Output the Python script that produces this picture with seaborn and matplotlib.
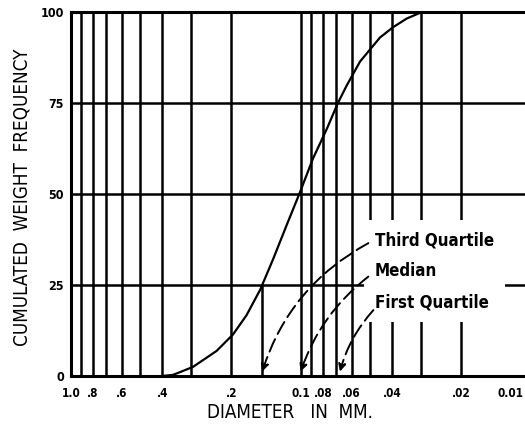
import matplotlib
matplotlib.use("Agg")
import matplotlib.pyplot as plt
import matplotlib.transforms as mtransforms
import seaborn as sns
import pandas as pd
from matplotlib.ticker import FixedLocator, NullFormatter, FixedFormatter

# ---- data ----
diameter_mm = [0.40, 0.36, 0.346, 0.294, 0.232, 0.197, 0.172, 0.150, 0.132, 0.115,
               0.1007, 0.0885, 0.0771, 0.0689, 0.0631, 0.0552, 0.0452, 0.0397,
               0.0346, 0.0297]
cum_weight_pct = [0.0, 0.3, 0.7, 2.5, 6.9, 11.4, 16.7, 23.7, 32.0, 41.5,
                  50.5, 59.7, 67.8, 75.0, 79.8, 86.4, 93.0, 95.8,
                  98.2, 100.0]

major_ticks = [1.0, 0.8, 0.6, 0.4, 0.2, 0.1, 0.08, 0.06, 0.04, 0.02, 0.01]
major_labels = ["1.0", ".8", ".6", ".4", ".2", "0.1", ".08", ".06", ".04", ".02", "0.01"]
minor_ticks = [0.9, 0.7, 0.5, 0.3, 0.09, 0.07, 0.05, 0.03]
y_ticks = [0, 25, 50, 75, 100]

quartile_names = ["Third Quartile", "Median", "First Quartile"]
quartile_diam = [0.147, 0.100, 0.0675]
quartile_pct = [25, 50, 75]

df = pd.DataFrame({"diameter": diameter_mm, "pct": cum_weight_pct})

sns.set_style("white")
plt.rcParams["font.family"] = ["DejaVu Sans"]
plt.rcParams["text.color"] = "black"
plt.rcParams["xtick.color"] = "black"
plt.rcParams["ytick.color"] = "black"

W, H = 525, 432
fig = plt.figure(figsize=(W / 100, H / 100), dpi=100)
left_px, right_px, top_px, bot_px = 70.7, 530.7, 12, 376
ax = fig.add_axes([left_px / W, 1 - bot_px / H, (right_px - left_px) / W, (bot_px - top_px) / H])

sns.lineplot(data=df, x="diameter", y="pct", sort=False, color="black", lw=1.6, ax=ax, zorder=3)

ax.set_xscale("log")
ax.set_xlim(1.0, 0.01)
ax.set_ylim(0, 100)
ax.xaxis.set_major_locator(FixedLocator(major_ticks))
ax.xaxis.set_major_formatter(FixedFormatter(major_labels))
ax.xaxis.set_minor_locator(FixedLocator(minor_ticks))
ax.xaxis.set_minor_formatter(NullFormatter())
ax.set_yticks(y_ticks)
ax.set_yticklabels([str(v) for v in y_ticks])

ax.grid(True, which="both", axis="x", color="black", lw=1.8)
ax.grid(True, which="major", axis="y", color="black", lw=1.8)
ax.set_axisbelow(True)
ax.tick_params(axis="both", which="both", length=0, colors="black")
ax.tick_params(axis="x", pad=8, labelsize=8.5)
ax.tick_params(axis="y", pad=5, labelsize=9)
for lab in ax.get_xticklabels() + ax.get_yticklabels():
    lab.set_fontweight("bold")
    lab.set_fontstretch("condensed")
# keep the last (partly off-page) tick label inside the picture
last = ax.get_xticklabels()[-1]
last.set_transform(last.get_transform() + mtransforms.ScaledTranslation(-0.2, 0, fig.dpi_scale_trans))

for side in ["left", "bottom", "top"]:
    ax.spines[side].set_color("black")
    ax.spines[side].set_linewidth(2.2)
ax.spines["right"].set_visible(False)

ax.set_xlabel("")
ax.set_ylabel("")

# drop line from the 25 % point
ax.vlines(quartile_diam[0], 0, quartile_pct[0], color="black", lw=1.8, zorder=2)

# labels box
ax.text(0.6615, 0.397, "\n".join(quartile_names), transform=ax.transAxes,
        ha="left", va="top", fontsize=12.2, fontweight="bold", fontstretch="condensed",
        linespacing=1.92,
        bbox=dict(facecolor="white", edgecolor="none", pad=8), zorder=4)

starts = [(0.0508, 36.5), (0.0508, 27.3), (0.0483, 18.1)]
rads = [0.2, 0.15, 0.12]
for qd, st, rad in zip(quartile_diam, starts, rads):
    ax.annotate("", xy=(qd, 1.2), xytext=st,
                arrowprops=dict(arrowstyle="-|>", connectionstyle=f"arc3,rad={rad}",
                                color="black", lw=1.4, linestyle=(0, (7, 3)),
                                mutation_scale=11, shrinkA=0, shrinkB=0),
                zorder=5)

fig.text(290 / W, 1 - 412 / H, "DIAMETER   IN  MM.", ha="center", va="center",
         fontsize=13.5, fontstretch="condensed")
fig.text(22 / W, 1 - 197 / H, "CUMULATED  WEIGHT  FREQUENCY", ha="center", va="center",
         rotation=90, fontsize=13.5, fontstretch="condensed")

fig.savefig("out.png", dpi=100)
